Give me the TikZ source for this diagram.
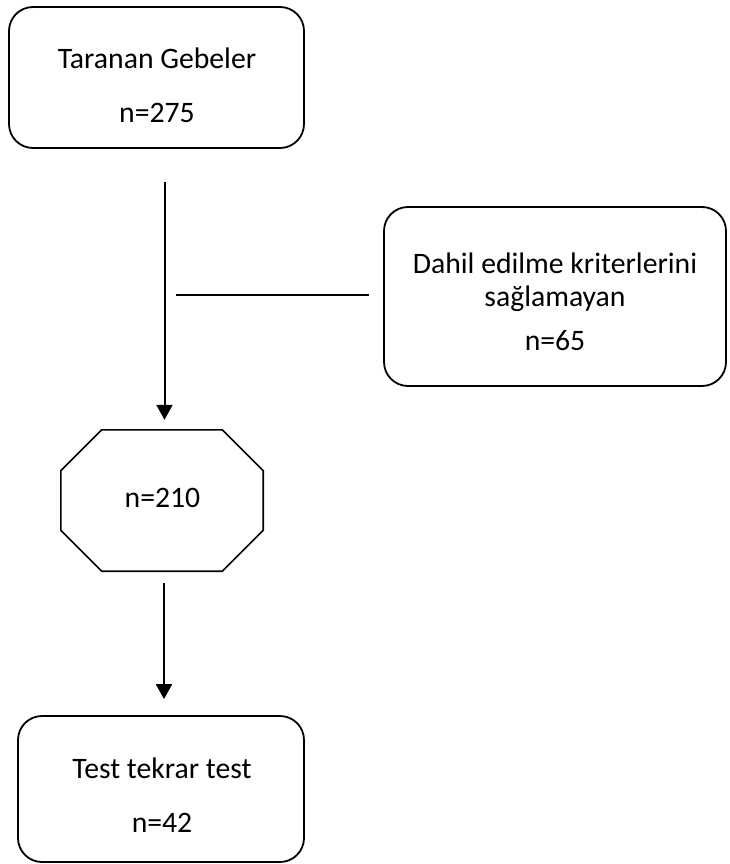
\documentclass[tikz,border=0pt]{standalone}
\usepackage{fontspec}
\setmainfont{Carlito}
\usetikzlibrary{arrows.meta}
\tikzset{
  box/.style={draw=black, line width=1.8pt, rounded corners=24pt, inner sep=0pt},
  octarea/.style={inner sep=0pt, minimum width=202pt, minimum height=141pt},
  octline/.style={draw=black, line width=1.6pt, line join=miter},
  txt/.style={anchor=base, inner sep=0pt, font=\fontsize{29.7}{33}\selectfont},
  arr/.style={draw=black, line width=2pt, -{Triangle[length=15pt,width=16pt]}},
  ln/.style={draw=black, line width=1.8pt}
}
\begin{document}
\begin{tikzpicture}[x=1pt,y=-1pt]
\useasboundingbox (0,0) rectangle (729,864);
% boxes
\node[box, minimum width=295pt, minimum height=141pt] (b1) at (156.5,77.5) {};
\node[box, minimum width=342pt, minimum height=179pt] (b2) at (555,296.5) {};
\node[octarea] (oct) at (162,500.5) {};
\draw[octline] ([xshift=41pt]oct.north west) -- ([xshift=-41pt]oct.north east)
  -- ([yshift=-41pt]oct.north east) -- ([yshift=41pt]oct.south east)
  -- ([xshift=-41pt]oct.south east) -- ([xshift=41pt]oct.south west)
  -- ([yshift=41pt]oct.south west) -- ([yshift=-41pt]oct.north west) -- cycle;
\node[box, minimum width=286pt, minimum height=146pt] (b3) at (161,789) {};
% texts
\node[txt] (t1a) at (157,69) {Taranan Gebeler};
\node[txt] (t1b) at (157,122) {n=275};
\node[txt] (t2a) at (555,273) {Dahil edilme kriterlerini};
\node[txt] (t2b) at (555,306) {sağlamayan};
\node[txt] (t2c) at (555,350) {n=65};
\node[txt] (t3) at (162.5,507) {n=210};
\node[txt] (t4a) at (162,778) {Test tekrar test};
\node[txt] (t4b) at (162,832) {n=42};
% connectors
\draw[arr] ([xshift=8pt,yshift=-33pt]b1.south) -- ([xshift=2.5pt,yshift=10pt]oct.north);
\draw[arr] ([xshift=2pt,yshift=-12pt]oct.south) -- ([xshift=3pt,yshift=16pt]b3.north);
\coordinate (j) at (176,295);
\draw[ln, shorten >=14pt] (j) -- (j -| b2.west);
\end{tikzpicture}
\end{document}
